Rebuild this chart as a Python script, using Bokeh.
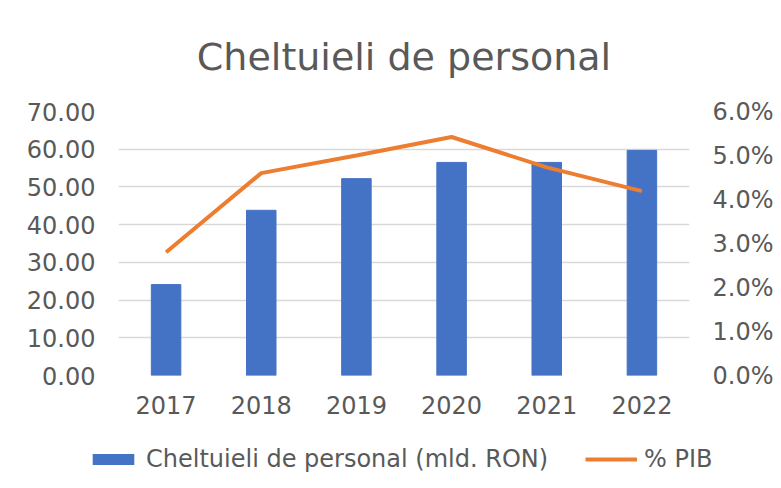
from bokeh.plotting import figure
from bokeh.models import (FactorRange, Range1d, LinearAxis, NumeralTickFormatter,
                          SingleIntervalTicker, Legend, LegendItem)
from bokeh.embed import file_html
from bokeh.resources import INLINE

years = ["2017", "2018", "2019", "2020", "2021", "2022"]
cheltuieli = [24.1, 43.8, 52.2, 56.5, 56.5, 59.7]
pib_pct = [0.028, 0.046, 0.050, 0.0542, 0.0473, 0.0419]
label_bars = "Cheltuieli de personal (mld. RON)"
label_line = "% PIB"

TXT = "#595959"
FONT = "DejaVu Sans"
BLUE = "#4472C4"
ORANGE = "#ED7D31"

p = figure(x_range=FactorRange(*years, range_padding=0), y_range=Range1d(0, 70),
           frame_width=571, frame_height=264, output_backend="svg", toolbar_location=None,
           min_border_left=118, min_border_right=92, min_border_top=110, min_border_bottom=56)
p.title.text = "Cheltuieli de personal"
p.title.align = "center"
p.title.text_font = FONT
p.title.text_font_size = "38px"
p.title.text_font_style = "normal"
p.title.text_color = TXT
p.title.standoff = 65
p.outline_line_color = None

p.vbar(x=years, top=cheltuieli, width=0.31, color=BLUE)

p.extra_y_ranges = {"pct": Range1d(0, 0.06)}
p.line(x=years, y=pib_pct, y_range_name="pct", color=ORANGE, line_width=4)

ax_r = LinearAxis(y_range_name="pct", ticker=SingleIntervalTicker(interval=0.01),
                  formatter=NumeralTickFormatter(format="0.0%"))
p.add_layout(ax_r, "right")

p.yaxis[0].ticker = SingleIntervalTicker(interval=10)
p.yaxis[0].formatter = NumeralTickFormatter(format="0.00")

for ax in p.yaxis + p.xaxis:
    ax.axis_line_color = None
    ax.major_tick_line_color = None
    ax.minor_tick_line_color = None
    ax.major_label_text_font = FONT
    ax.major_label_text_font_size = "24px"
    ax.major_label_text_color = TXT
p.xaxis.major_label_standoff = 14
p.yaxis.major_label_standoff = 17

p.xgrid.grid_line_color = None
p.ygrid.grid_line_color = "#d9d9d9"
p.ygrid.grid_line_width = 1.5
p.ygrid.ticker = SingleIntervalTicker(interval=10)

# legend strip below the chart (separate root; its series lie far outside its range
# and only feed the legend glyphs)
pl = figure(width=781, height=58, output_backend="svg", toolbar_location=None,
            x_range=FactorRange(*years), y_range=Range1d(1000, 1001),
            x_axis_location=None, y_axis_location=None, min_border=0)
pl.grid.visible = False
pl.outline_line_color = None
r_bar = pl.vbar(x=years, top=cheltuieli, width=0.31, fill_color=BLUE, line_color=None)
r_line = pl.line(x=years, y=pib_pct, color=ORANGE, line_width=4)
legend = Legend(items=[LegendItem(label=label_bars, renderers=[r_bar]),
                       LegendItem(label=label_line, renderers=[r_line])],
                orientation="horizontal", location=(87, 16),
                label_text_font=FONT, label_text_font_size="24px", label_text_color=TXT,
                glyph_width=52, glyph_height=14, spacing=37, label_standoff=7,
                border_line_color=None, background_fill_alpha=0, margin=0, padding=0)
pl.add_layout(legend, "center")

open("out.html", "w").write(file_html([p, pl], INLINE))
